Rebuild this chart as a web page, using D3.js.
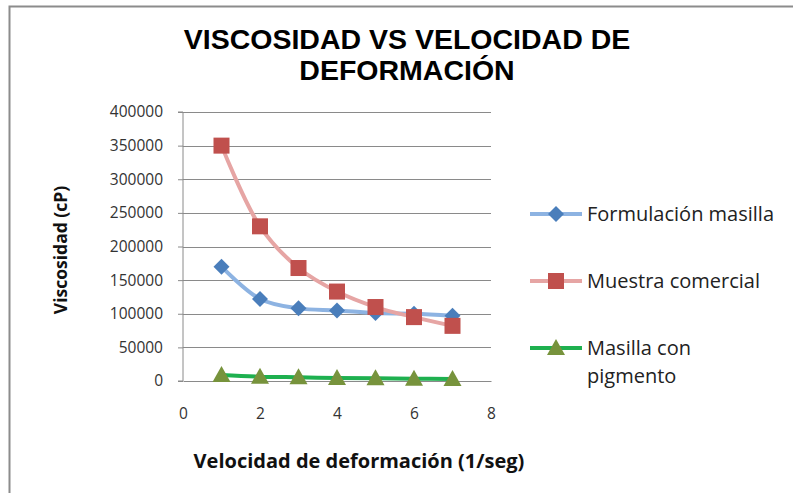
<!DOCTYPE html>
<html>
<head>
<meta charset="utf-8">
<script src="https://cdn.jsdelivr.net/npm/d3@7"></script>
<style>
  body { margin: 0; background: #fff; }
  svg { display: block; }
</style>
</head>
<body>
<div id="chart"></div>
<script>
// data
const velocidad = [1, 2, 3, 4, 5, 6, 7];
const formulacionMasilla = [170000, 122000, 108000, 105000, 101000, 100000, 97000];
const muestraComercial = [350000, 230000, 168000, 133000, 110000, 95000, 82000];
const masillaPigmento = [9000, 6500, 5500, 4500, 4000, 3500, 3000];
const yTicks = [0, 50000, 100000, 150000, 200000, 250000, 300000, 350000, 400000];
const xTicks = [0, 2, 4, 6, 8];

const series = [
  { name: ["Formulación masilla"], values: formulacionMasilla, line: "#8db3e2", fill: "#4a7ebb", shape: "diamond" },
  { name: ["Muestra comercial"], values: muestraComercial, line: "#e6a5a4", fill: "#c0504d", shape: "square" },
  { name: ["Masilla con", "pigmento"], values: masillaPigmento, line: "#1eb04f", fill: "#77933c", shape: "triangle" }
];

const W = 793, H = 493;
const margin = { top: 112, left: 183, right: 302, bottom: 112 };
const width = W - margin.left - margin.right,
  height = H - margin.top - margin.bottom;
const font = "'Open Sans', Lato, sans-serif";

const svg = d3.select("#chart").append("svg")
  .attr("width", W).attr("height", H);

// outer chart border (only top and left edges show)
svg.append("path")
  .attr("d", "M9.5," + H + "V6.5H" + W)
  .attr("fill", "none").attr("stroke", "#8c8c8c").attr("stroke-width", 2);

const titleLines = ["VISCOSIDAD VS VELOCIDAD DE", "DEFORMACIÓN"];
titleLines.forEach(function(t, i) {
  svg.append("text")
    .attr("x", 407).attr("y", 49 + i * 31)
    .attr("text-anchor", "middle")
    .style("font-family", "'Liberation Sans', Arial, sans-serif")
    .style("font-size", "28.5px")
    .style("font-weight", "bold")
    .attr("fill", "#000")
    .text(t);
});

const g = svg.append("g")
  .attr("transform", "translate(" + margin.left + "," + margin.top + ")");

var x = d3.scaleLinear().domain([0, 8]).range([0, width]);
var y = d3.scaleLinear().domain([0, 400000]).range([height, 0]);

// gridlines
g.selectAll("line.grid")
  .data(yTicks.filter(d => d > 0))
  .enter().append("line")
  .attr("class", "grid")
  .attr("x1", 0).attr("x2", width)
  .attr("y1", d => Math.round(y(d)) + 0.5).attr("y2", d => Math.round(y(d)) + 0.5)
  .attr("stroke", "#8a8a8a").attr("stroke-width", 1);

// y axis
const yAxis = g.append("g")
  .call(d3.axisLeft(y).tickValues(yTicks).tickSize(5).tickPadding(15).tickFormat(d3.format("d")));
yAxis.select(".domain").attr("stroke", "#8a8a8a").attr("d", "M-5," + height + "H0V0H-5");
yAxis.selectAll(".tick line").attr("stroke", "#8a8a8a");
yAxis.selectAll("text").style("font-family", font).style("font-size", "15.5px").attr("fill", "#333");

// x axis
const xAxis = g.append("g")
  .attr("transform", "translate(0," + height + ")")
  .call(d3.axisBottom(x).tickValues(xTicks).tickSize(0).tickPadding(27));
xAxis.select(".domain").attr("stroke", "#8a8a8a");
xAxis.selectAll("text").style("font-family", font).style("font-size", "15.5px").attr("fill", "#333");

// axis titles
svg.append("text")
  .attr("transform", "translate(67,250) rotate(-90)")
  .attr("text-anchor", "middle")
  .style("font-family", font).style("font-size", "17.5px").style("font-weight", "bold")
  .attr("fill", "#111")
  .text("Viscosidad (cP)");
svg.append("text")
  .attr("x", 359).attr("y", 468)
  .attr("text-anchor", "middle")
  .style("font-family", font).style("font-size", "20px").style("font-weight", "bold")
  .attr("fill", "#111")
  .text("Velocidad de deformación (1/seg)");

const line = d3.line()
  .x((d, i) => x(velocidad[i]))
  .y(d => y(d))
  .curve(d3.curveCatmullRom.alpha(0.5));

function marker(sel, shape, fill) {
  if (shape === "diamond") {
    sel.append("path").attr("d", "M0,-8L8,0L0,8L-8,0Z").attr("fill", fill);
  } else if (shape === "square") {
    sel.append("rect").attr("x", -8).attr("y", -8).attr("width", 16).attr("height", 16).attr("fill", fill);
  } else {
    sel.append("path").attr("d", "M0,-9L9,7H-9Z").attr("fill", fill);
  }
}

series.forEach(function(s) {
  g.append("path")
    .attr("d", line(s.values))
    .attr("fill", "none")
    .attr("stroke", s.line)
    .attr("stroke-width", 4);
});
series.forEach(function(s) {
  g.selectAll(null)
    .data(s.values)
    .enter().append("g")
    .attr("transform", (d, i) => "translate(" + x(velocidad[i]) + "," + y(d) + ")")
    .each(function() { marker(d3.select(this), s.shape, s.fill); });
});

// legend
const legendY = [214, 281, 348];
series.forEach(function(s, i) {
  const lg = svg.append("g").attr("transform", "translate(530," + legendY[i] + ")");
  lg.append("line").attr("x1", 0).attr("x2", 52).attr("stroke", s.line).attr("stroke-width", 4);
  const m = lg.append("g").attr("transform", "translate(26,0)");
  marker(m, s.shape, s.fill);
  s.name.forEach(function(t, k) {
    lg.append("text")
      .attr("x", 57).attr("y", 7 + k * 28)
      .style("font-family", font).style("font-size", "20px")
      .attr("fill", "#222")
      .text(t);
  });
});
</script>
</body>
</html>
